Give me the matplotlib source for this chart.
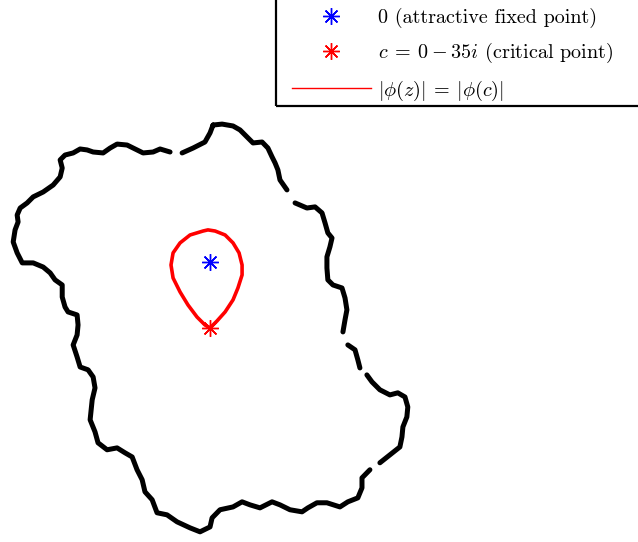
import numpy as np
import matplotlib.pyplot as plt
from matplotlib.lines import Line2D
from matplotlib.patches import Rectangle

plt.rcParams['mathtext.fontset'] = 'cm'
plt.rcParams['font.family'] = ['cmr10', 'DejaVu Serif']
plt.rcParams['axes.unicode_minus'] = False

nan = np.nan

# boundary of the filled Julia set (traced points, nan = gap in the trace)
julia_x = [1.6, 6.4, 12.2, 15.9, 19.6, 22.8, 27.6, 30.7, 32.9, 34.5, 36.0, 37.1, 40.8, nan,
           45.1, 51.4, 55.7, 59.4, 61.0, 62.5, 64.7, 63.6, 62.0, 62.0, 62.5, 65.2, 70.0,
           71.6, 72.6, 71.6, 70.5, nan, 73.1, 76.9, 78.4, 79.5, nan, 83.2, 85.9, 90.1, 95.4,
           99.6, 103.4, 104.9, 104.4, 102.3, 101.8, 100.7, 95.4, 90.1, nan, 84.8, 80.6, 80.6,
           78.4, 73.1, 68.9, 62.0, 56.7, 51.9, 48.8, 42.4, 37.1, 32.9, 26.5, 21.2, 17.0,
           12.2, 5.3, 1.1, 0.0, -5.3, -10.6, -17.5, -22.8, -28.1, -30.7, -34.5, -36.0,
           -38.7, -41.3, -45.1, -49.3, -54.6, -59.4, -61.0, -63.6, -62.5, -61.0, -62.0,
           -64.7, -68.9, -70.5, -72.6, -70.5, -70.0, -70.5, -75.3, -76.9, -78.4, -78.4,
           -82.2, -84.8, -88.5, -93.8, -99.6, -102.3, -104.4, -103.4, -101.8, -102.3,
           -100.7, -97.0, -93.8, -88.5, -83.2, -79.5, -78.4, -79.5, -76.9, -72.6, -68.9,
           -65.2, -62.0, -56.7, -53.0, -49.3, -44.0, -40.8, -35.5, -30.2, -26.5, -21.2,
           nan, -14.8, -9.0, -2.7, 0.0, 1.6]
julia_y = [72.6, 73.1, 72.1, 70.0, 66.3, 63.1, 63.6, 60.4, 55.7, 52.5, 48.8, 43.5, 38.2, nan,
           31.3, 28.6, 29.2, 26.0, 20.7, 15.4, 12.7, 8.0, 2.7, -3.2, -9.5, -12.2, -13.8,
           -19.1, -25.4, -30.7, -37.1, nan, -44.0, -46.6, -51.9, -56.2, nan, -59.9, -63.6,
           -67.8, -70.5, -69.4, -71.6, -76.9, -82.2, -87.5, -92.8, -98.1, -102.3, -106.5,
           nan, -110.2, -114.5, -119.8, -125.1, -127.2, -129.9, -127.7, -127.7, -130.4, -132.5,
           -131.4, -128.8, -127.2, -130.4, -128.8, -127.2, -129.9, -131.4, -135.7, -140.5,
           -143.1, -141.0, -137.8, -134.1, -133.0, -126.1, -121.9, -115.5, -110.2, -103.4,
           -101.2, -98.6, -99.6, -95.9, -90.1, -83.7, -73.1, -66.8, -61.0, -57.2, -55.7,
           -50.4, -44.0, -38.7, -33.4, -28.1, -26.5, -23.9, -18.6, -12.2, -9.5, -5.8, -2.7,
           -0.5, -0.5, 4.8, 10.6, 17.0, 21.2, 24.9, 28.6, 31.3, 34.5, 37.1, 40.8, 45.1,
           49.8, 54.1, 56.7, 57.8, 59.9, 59.4, 58.3, 57.8, 60.4, 62.5, 62.0, 60.4, 57.8,
           58.3, 59.9, 58.3, nan, 57.8, 60.4, 63.6, 68.4, 72.6]

# level curve |phi(z)| = |phi(c)| through the critical point
level_x = [0.0, -2.7, -6.9, -11.7, -15.9, -19.6, -20.7, -19.6, -15.9, -10.6, -3.7, -1.1,
           2.7, 8.0, 12.2, 15.4, 17.0, 17.0, 14.8, 12.2, 8.0, 3.7, 0.0]
level_y = [-35.0, -33.4, -29.2, -22.8, -15.9, -8.5, -1.6, 4.8, 10.1, 14.3, 16.4, 17.0,
           16.4, 14.3, 10.1, 4.8, -1.6, -6.9, -13.8, -20.1, -26.5, -31.3, -35.0]

fixed_pt = (0.0, 0.0)
crit_pt = (0.0, -35.0)

fig = plt.figure(figsize=(6.38, 5.42), dpi=100)
ax = fig.add_axes([0, 0, 1, 1])
ax.set_xlim(-111.4, 227.0)
ax.set_ylim(-148.5, 138.9)
ax.axis('off')

ax.plot(julia_x, julia_y, color='black', lw=3.6, solid_capstyle='round',
        solid_joinstyle='round')
ax.plot(level_x, level_y, color='red', lw=2.6, solid_capstyle='round')

star = (8, 2, 0)
mk = dict(marker=star, ms=12, mew=1.0, ls='none')
ax.plot(*fixed_pt, color='blue', **mk)
ax.plot(*crit_pt, color='red', **mk)

handles = [
    Line2D([], [], color='blue', **mk),
    Line2D([], [], color='red', **mk),
    Line2D([], [], color='red', lw=1.0),
]
labels = ['0 (attractive fixed point)',
          r'$c\:=\:0\:-\:35i$ (critical point)',
          r'$|\phi(z)|\:=\:|\phi(c)|$']
fig.legend(handles, labels, loc='upper left', bbox_to_anchor=(292 / 638, 1 - 8 / 542),
           frameon=False, fontsize=14.5, borderpad=0.0, borderaxespad=0.0,
           handlelength=3.9, handletextpad=0.35, labelspacing=0.65, numpoints=1)

# legend box, running off the top and right edges
fig.patches.append(Rectangle((276 / 638, 1 - 106 / 542), 0.6, 0.3,
                             transform=fig.transFigure, fill=False,
                             edgecolor='black', lw=1.6))

fig.savefig('out.png', dpi=100)
